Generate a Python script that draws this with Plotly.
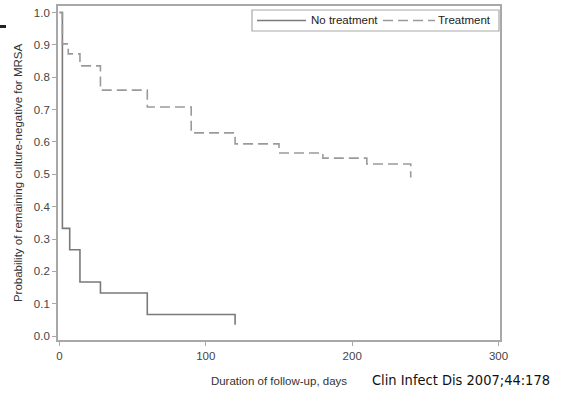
import plotly.graph_objects as go

# Kaplan-Meier style step data (days, probability)
no_treat_days = [0, 2, 7, 14, 28, 60, 120, 120]
no_treat_prob = [1.0, 0.333, 0.267, 0.167, 0.133, 0.067, 0.067, 0.035]

treat_days = [0, 2, 6, 14, 28, 60, 90, 120, 150, 180, 210, 240, 240]
treat_prob = [1.0, 0.903, 0.872, 0.835, 0.760, 0.708, 0.628, 0.594, 0.566, 0.550, 0.532, 0.532, 0.490]

x_ticks = [0, 100, 200, 300]
y_ticks = [0.0, 0.1, 0.2, 0.3, 0.4, 0.5, 0.6, 0.7, 0.8, 0.9, 1.0]
y_labels = ["%.1f" % v for v in y_ticks]

series_names = ["No treatment", "Treatment"]
SOLID_C = "#7a7a7a"
DASH_C = "#9a9a9a"
DASH = "10px,5px"

fig = go.Figure()
fig.add_trace(go.Scatter(x=no_treat_days, y=no_treat_prob, mode="lines", line_shape="hv",
                         name=series_names[0], line=dict(color=SOLID_C, width=1.6)))
fig.add_trace(go.Scatter(x=treat_days, y=treat_prob, mode="lines", line_shape="hv",
                         name=series_names[1], line=dict(color=DASH_C, width=1.6, dash=DASH)))

FONT = "Liberation Sans, Arial"
axis_common = dict(showline=True, mirror=True, linecolor="#a8a8a8", linewidth=1.8,
                   ticks="outside", ticklen=4, tickcolor="#a8a8a8", tickwidth=1.2,
                   showgrid=False, zeroline=False, automargin=False,
                   tickfont=dict(family=FONT, size=11.5, color="#444"))

L, R, T, B = 58, 76, 6, 54
W, H = 576, 394
PW, PH = W - L - R, H - T - B

def px(x):
    return (x - L) / PW

def py(y):
    return (H - B - y) / PH

fig.update_layout(
    width=W, height=H,
    margin=dict(l=L, r=R, t=T, b=B),
    paper_bgcolor="white", plot_bgcolor="white",
    font=dict(family=FONT, color="#333"),
    xaxis=dict(range=[-1, 301], tickvals=x_ticks, **axis_common,
               title=dict(text="Duration of follow-up, days", font=dict(size=11.5, color="#333"), standoff=16)),
    yaxis=dict(range=[-0.012, 1.02], tickvals=y_ticks, ticktext=y_labels, **axis_common,
               title=dict(text="Probability of remaining culture-negative for MRSA",
                          font=dict(size=11.5, color="#333"), standoff=9)),
    showlegend=False,
)

# legend drawn by hand to match the long line samples
fig.add_shape(type="rect", xref="paper", yref="paper", x0=px(252), x1=px(499), y0=py(31), y1=py(10),
              line=dict(color="#a8a8a8", width=1.2), fillcolor="white", layer="above")
fig.add_shape(type="line", xref="paper", yref="paper", x0=px(257), x1=px(306), y0=py(20.5), y1=py(20.5),
              line=dict(color=SOLID_C, width=1.4), layer="above")
fig.add_shape(type="line", xref="paper", yref="paper", x0=px(383), x1=px(435), y0=py(20.5), y1=py(20.5),
              line=dict(color=DASH_C, width=1.4, dash=DASH), layer="above")
fig.add_annotation(text=series_names[0], xref="paper", yref="paper", x=px(309), y=py(20.5),
                   xanchor="left", yanchor="middle", showarrow=False,
                   font=dict(family=FONT, size=11.5, color="#222"))
fig.add_annotation(text=series_names[1], xref="paper", yref="paper", x=px(436), y=py(20.5),
                   xanchor="left", yanchor="middle", showarrow=False,
                   font=dict(family=FONT, size=11.5, color="#222"))

fig.add_annotation(text="Clin Infect Dis 2007;44:178", xref="paper", yref="paper",
                   x=px(461), y=py(380), xanchor="center", yanchor="middle", showarrow=False,
                   font=dict(family="DejaVu Sans Condensed, DejaVu Sans", size=14.5, color="#111"))

# small dark mark at top-left from the slide
fig.add_shape(type="rect", xref="paper", yref="paper",
              x0=px(0), x1=px(6), y0=py(28), y1=py(25),
              fillcolor="#222", line=dict(width=0))

fig.write_html("out.html", config={"displayModeBar": False},
               post_script="document.body.style.margin='0px';")
